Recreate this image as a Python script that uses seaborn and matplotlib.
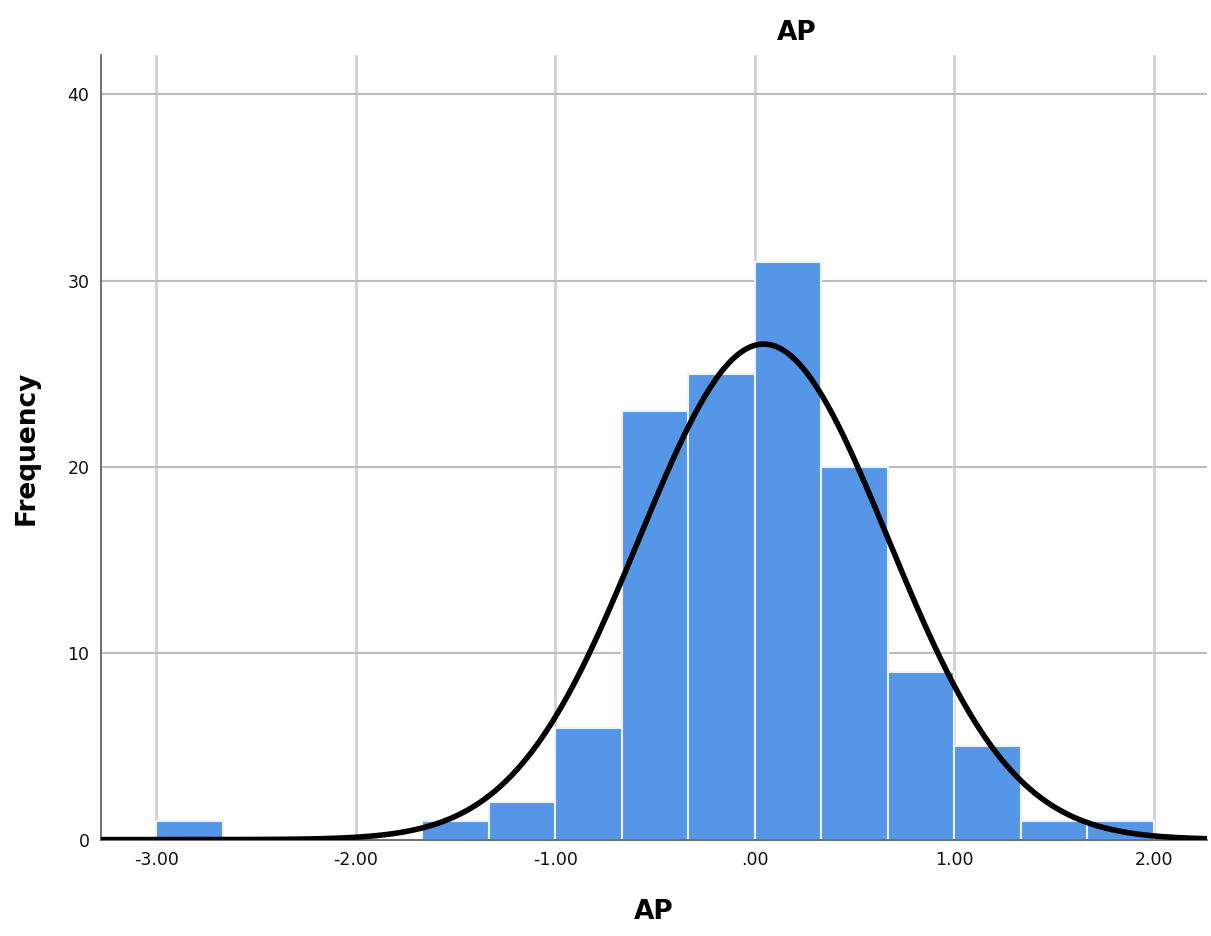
import numpy as np
import pandas as pd
import seaborn as sns
import matplotlib.pyplot as plt
from matplotlib.ticker import FuncFormatter

# histogram bins (width 1/3) and counts
bin_edges = [round(-3.0 + i / 3.0, 6) for i in range(16)]
counts = [1, 0, 0, 0, 1, 2, 6, 23, 25, 31, 20, 9, 5, 1, 1]
# fitted normal curve
mean_ap = 0.045
std_ap = 0.625
n_total = sum(counts)
bin_width = 1.0 / 3.0

centers = [(a + b) / 2 for a, b in zip(bin_edges[:-1], bin_edges[1:])]
dt = pd.DataFrame({"AP": centers, "n": counts})

xs = np.linspace(-3.28, 2.27, 400)
curve = n_total * bin_width / (std_ap * np.sqrt(2 * np.pi)) * np.exp(
    -0.5 * ((xs - mean_ap) / std_ap) ** 2
)
dt_curve = pd.DataFrame({"x": xs, "y": curve})

sns.set_style("white")
plt.rcParams["font.family"] = ["DejaVu Sans"]

fig, ax = plt.subplots(figsize=(12.11, 9.36), dpi=100)
fig.subplots_adjust(left=0.083, right=0.997, top=0.941, bottom=0.103)

sns.histplot(
    data=dt,
    x="AP",
    weights="n",
    bins=bin_edges,
    color="#5596e6",
    alpha=1,
    edgecolor="#eef3fb",
    linewidth=1.5,
    ax=ax,
    zorder=2,
)
sns.lineplot(data=dt_curve, x="x", y="y", color="black", linewidth=4, ax=ax, zorder=3)

ax.set_xlim(-3.28, 2.27)
ax.set_ylim(0, 42.1)
ax.set_xticks([-3, -2, -1, 0, 1, 2])
ax.set_yticks([0, 10, 20, 30, 40])
ax.xaxis.set_major_formatter(
    FuncFormatter(lambda v, p: ("%.2f" % v).replace("0.00", ".00").replace("-.00", ".00"))
)
ax.grid(False)
for v in [-3, -2, -1, 0, 1, 2]:
    ax.axvline(v, color="#d2d2d2", linewidth=2, zorder=0)
for v in [10, 20, 30, 40]:
    ax.axhline(v, color="#bdbdbd", linewidth=1.5, zorder=0)

for s in ["top", "right"]:
    ax.spines[s].set_visible(False)
for s in ["left", "bottom"]:
    ax.spines[s].set_color("#555555")
    ax.spines[s].set_linewidth(1.2)
ax.tick_params(axis="both", length=0, labelsize=12.5, colors="#111111", pad=8)

ax.set_xlabel("AP", fontsize=19, fontweight="bold", labelpad=22, color="black")
ax.set_ylabel("Frequency", fontsize=19, fontweight="bold", labelpad=20, color="black")
fig.text(0.658, 0.965, "AP", fontsize=19, fontweight="bold", ha="center", va="center",
         color="black")

plt.savefig("out.png", dpi=100)
